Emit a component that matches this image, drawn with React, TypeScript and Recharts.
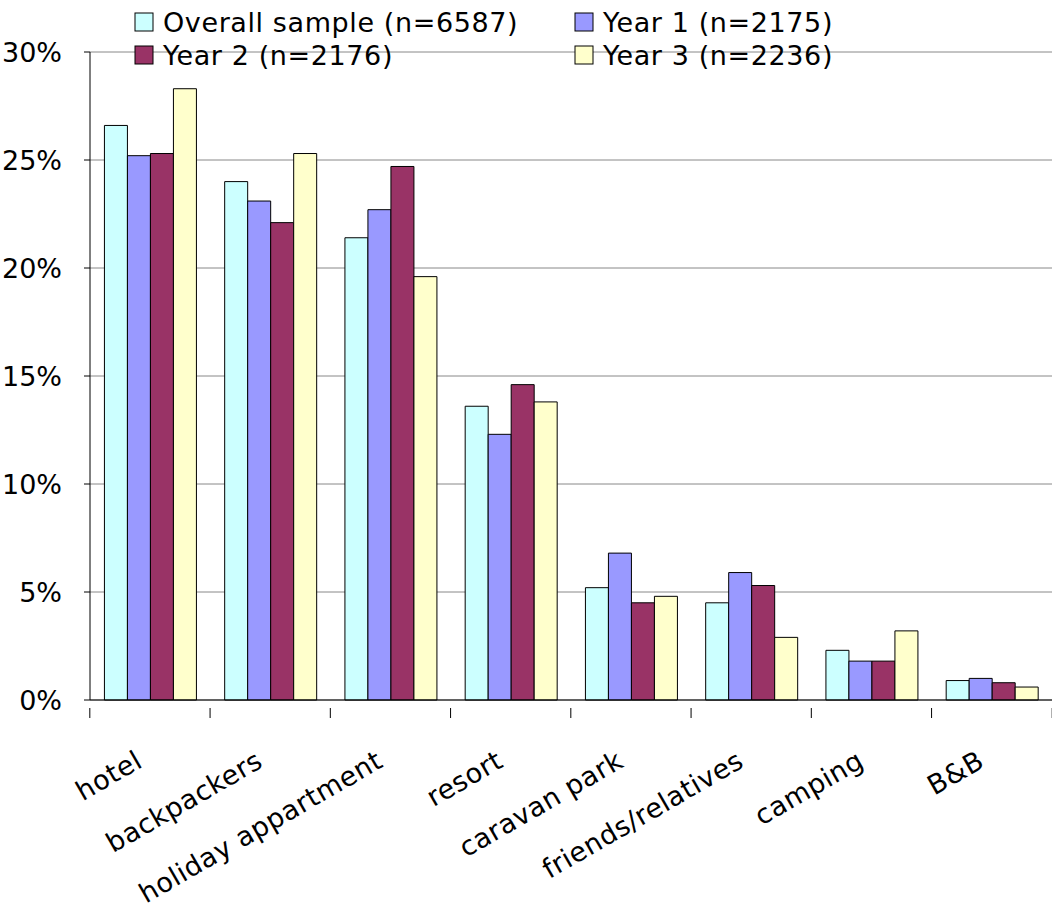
import React from "react";
import { BarChart, Bar, XAxis, YAxis, CartesianGrid } from "recharts";

const categories = ["hotel", "backpackers", "holiday appartment", "resort", "caravan park", "friends/relatives", "camping", "B&B"];
const overall = [26.6, 24.0, 21.4, 13.6, 5.2, 4.5, 2.3, 0.9];
const year1 = [25.2, 23.1, 22.7, 12.3, 6.8, 5.9, 1.8, 1.0];
const year2 = [25.3, 22.1, 24.7, 14.6, 4.5, 5.3, 1.8, 0.8];
const year3 = [28.3, 25.3, 19.6, 13.8, 4.8, 2.9, 3.2, 0.6];
const yTicks = [0, 5, 10, 15, 20, 25, 30];

const series = [
  { key: "overall", name: "Overall sample (n=6587)", color: "#ccffff" },
  { key: "year1", name: "Year 1 (n=2175)", color: "#9999ff" },
  { key: "year2", name: "Year 2 (n=2176)", color: "#993366" },
  { key: "year3", name: "Year 3 (n=2236)", color: "#ffffcc" },
];

const data = categories.map((c, i) => ({ cat: c, overall: overall[i], year1: year1[i], year2: year2[i], year3: year3[i] }));

const FONT = "'DejaVu Sans', sans-serif";
const HALF = 965 / 8 / 2;

const XTick = (props: any) => {
  const { x, y, payload, index } = props;
  const tx = x - 6;
  const ty = y + 58;
  return (
    <g>
      <line x1={x - HALF} x2={x - HALF} y1={y} y2={y + 10} stroke="#000" />
      {index === categories.length - 1 && <line x1={x + HALF} x2={x + HALF} y1={y} y2={y + 10} stroke="#000" />}
      <text x={tx} y={ty} textAnchor="end" fontSize={27} letterSpacing={0.5} fontFamily={FONT} fill="#000" transform={`rotate(-30 ${tx} ${ty})`}>
        {payload.value}
      </text>
    </g>
  );
};

const YTick = (props: any) => {
  const { x, y, payload } = props;
  return (
    <text x={x - 20} y={y + 10} textAnchor="end" fontSize={27} fontFamily={FONT} fill="#000">
      {payload.value}%
    </text>
  );
};

const LegendBox = () => {
  const pos = [[135, 22], [575, 22], [135, 55], [575, 55]];
  return (
    <g>
      {series.map((s, i) => (
        <g key={s.key}>
          <rect x={pos[i][0]} y={pos[i][1] - 9} width={18} height={18} fill={s.color} stroke="#000" />
          <text x={pos[i][0] + 28} y={pos[i][1] + 10} fontSize={27} letterSpacing={0.6} fontFamily={FONT} fill="#000">{s.name}</text>
        </g>
      ))}
    </g>
  );
};

export default function App() {
  return (
    <div style={{ position: "absolute", left: 0, top: 0, background: "#fff" }}>
      <BarChart width={1052} height={911} data={data} margin={{ top: 52, right: 0, bottom: 0, left: 0 }} barCategoryGap="12%" barGap={0}>
        <CartesianGrid vertical={false} stroke="#888" />
        <XAxis dataKey="cat" tick={<XTick />} tickLine={false} axisLine={{ stroke: "#000" }} interval={0} height={211} />
        <YAxis domain={[0, 30]} ticks={yTicks} tick={<YTick />} width={90} axisLine={{ stroke: "#000" }} tickLine={{ stroke: "#000" }} tickSize={6} />
        {series.map((s) => (
          <Bar key={s.key} dataKey={s.key} name={s.name} fill={s.color} stroke="#000" strokeWidth={1} isAnimationActive={false} />
        ))}
        <LegendBox />
      </BarChart>
    </div>
  );
}
